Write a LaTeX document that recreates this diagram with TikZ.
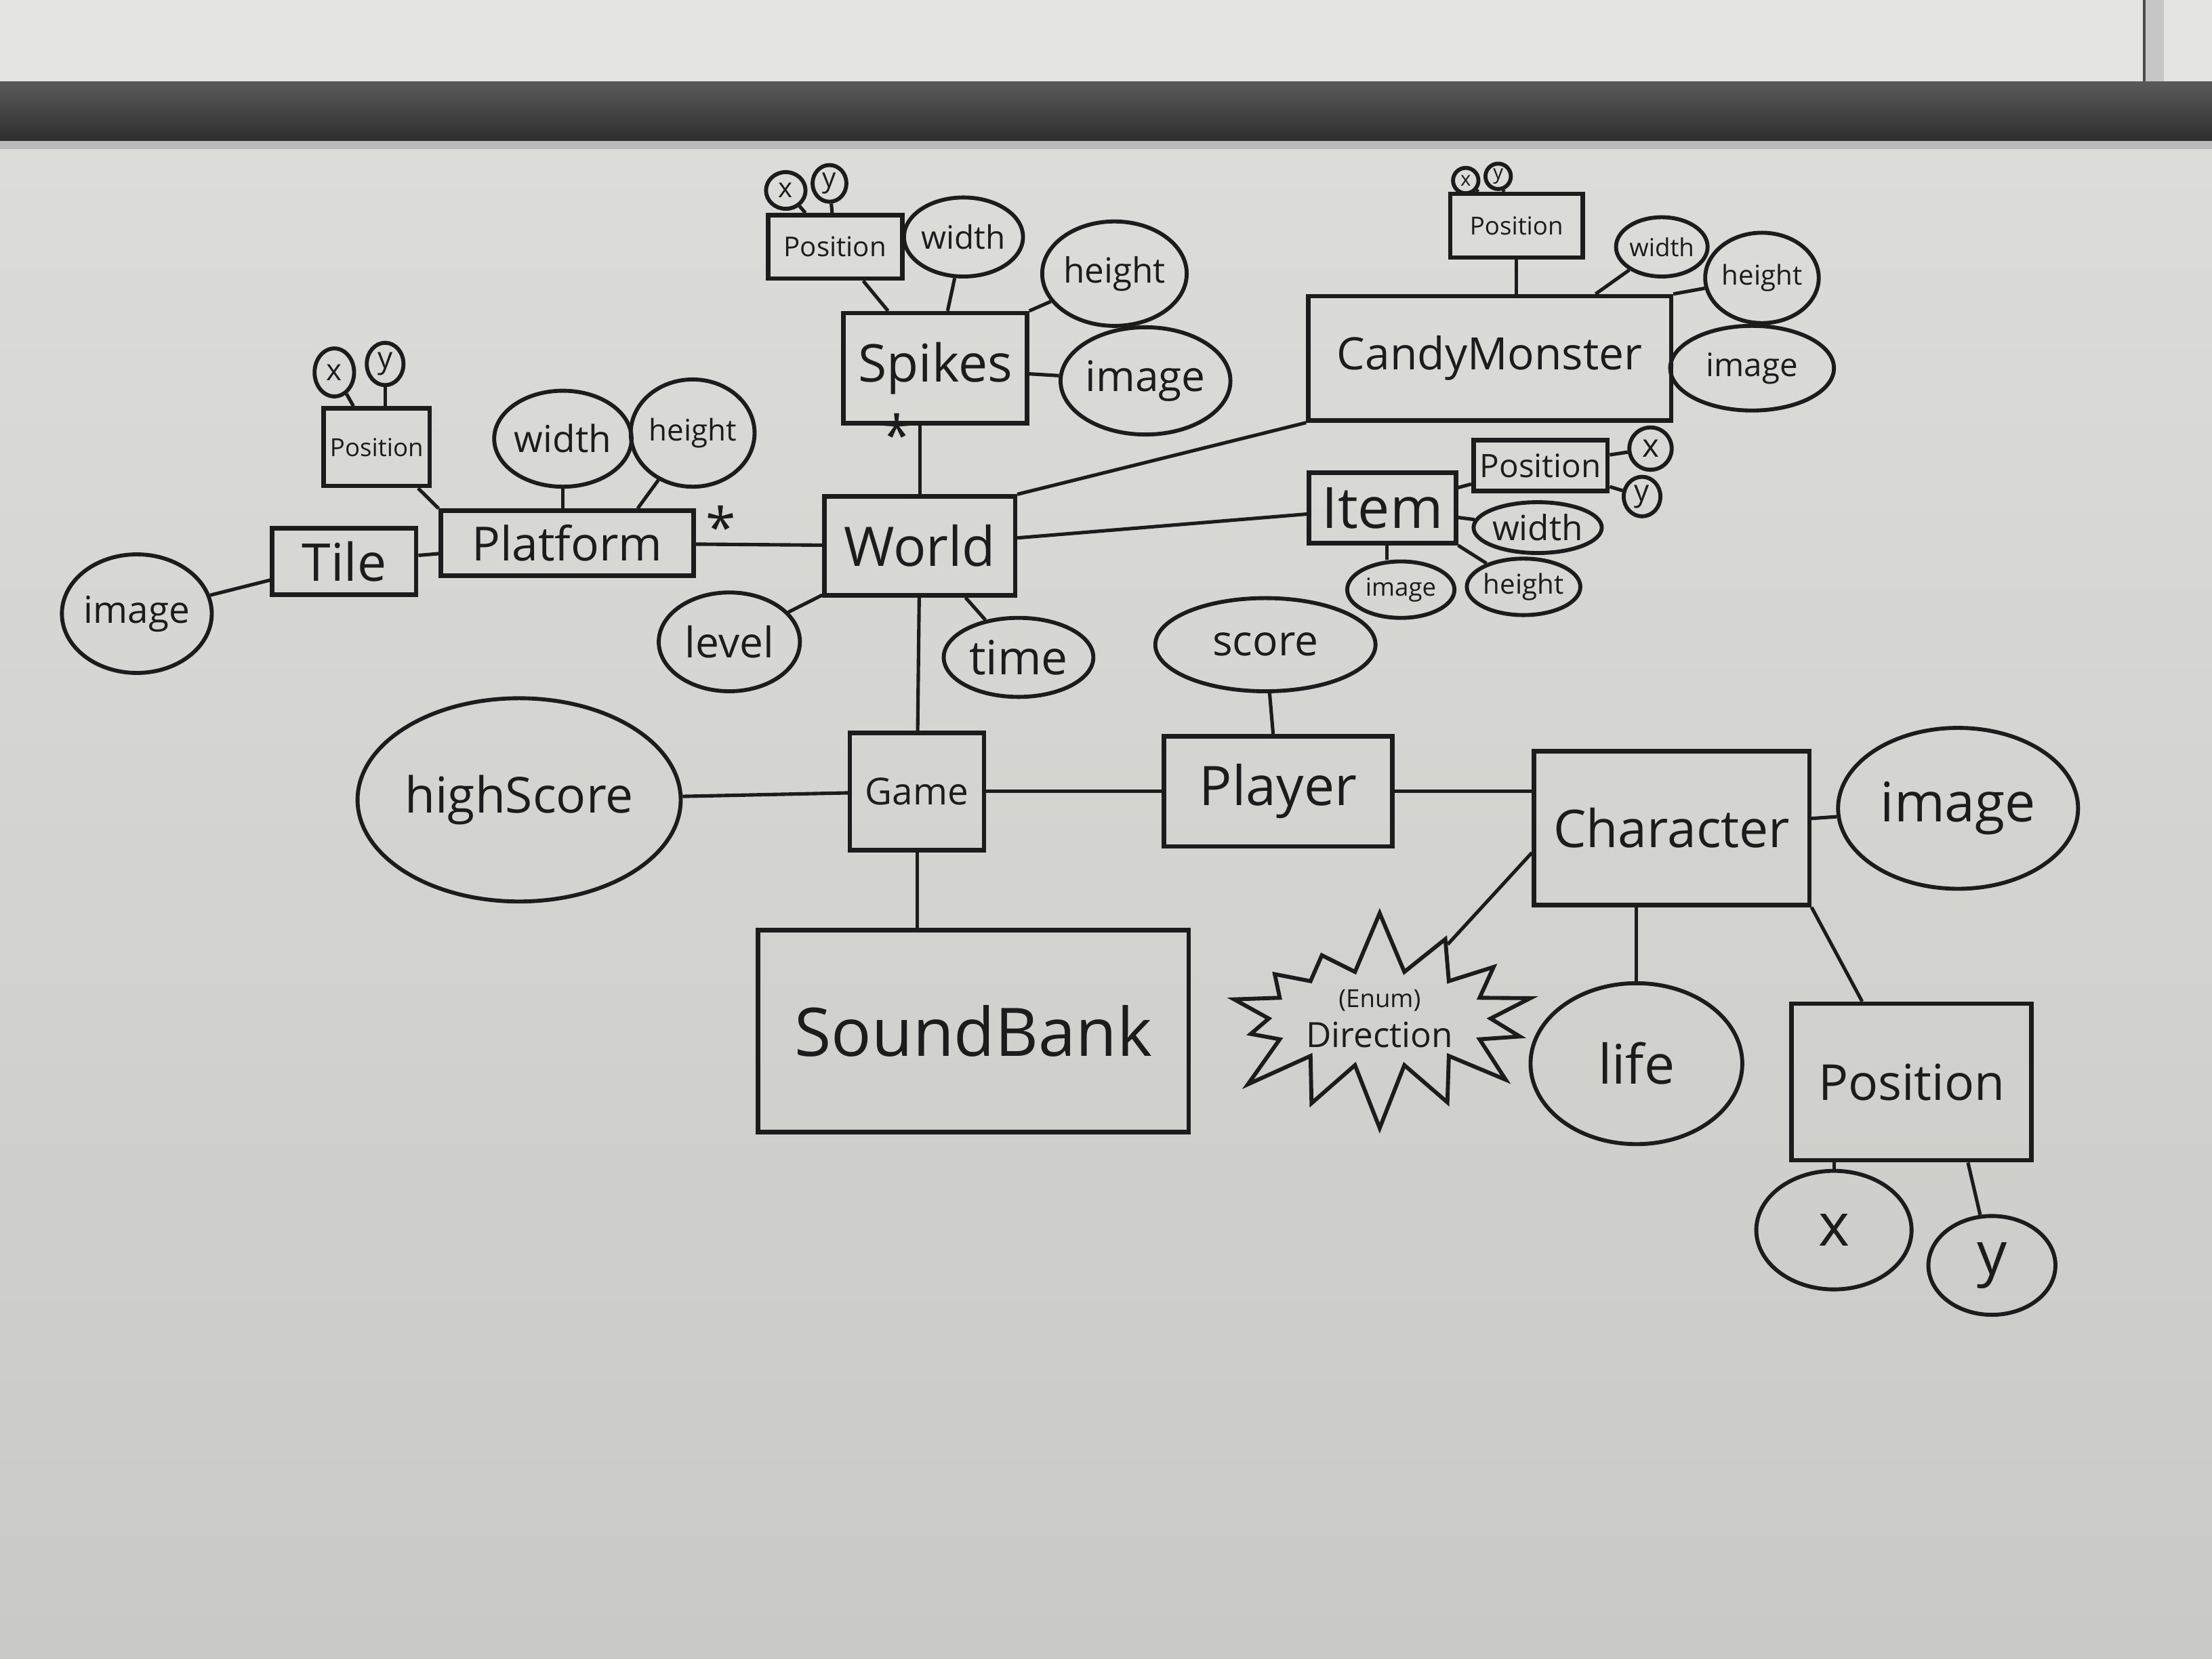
\documentclass[tikz,border=0pt]{standalone}
\usepackage{fontspec}
\setmainfont{Open Sans}
\usetikzlibrary{shapes.geometric,shapes.symbols}
\definecolor{inkc}{HTML}{1C1C1C}
\definecolor{boardtop}{HTML}{DCDCD8}
\definecolor{boardbot}{HTML}{C9C9C5}
\definecolor{wallc}{HTML}{E4E4E2}
\begin{document}
\begin{tikzpicture}[x=0.01cm,y=-0.01cm,
  ent/.style={draw=inkc, text=inkc, rectangle, inner sep=0pt, line width=0.9pt},
  att/.style={draw=inkc, text=inkc, ellipse, inner sep=0pt, line width=0.8pt},
  lnk/.style={draw=inkc, line width=0.7pt},
  fs/.style={font=\fontsize{#1}{#1}\selectfont},
  multmark/.style={text=inkc, inner sep=0pt, font=\fontsize{11}{11}\selectfont},
]
% ---------- background (whiteboard photo) ----------
\useasboundingbox (0,0) rectangle (1568,1176);
\fill[wallc] (0,0) rectangle (1568,60);
\fill[gray!45] (1520,0) rectangle (1534,66);
\draw[gray!60!black, line width=0.6pt] (1520,0) -- (1520,64) -- (1534,64);
\shade[top color=gray!70!black, bottom color=black!82] (0,58) rectangle (1568,100);
\fill[gray!55] (0,100) rectangle (1568,106);
\shade[top color=boardtop, bottom color=boardbot] (0,106) rectangle (1568,1176);

% ---------- Platform group ----------
\node[ent, minimum width=1.79cm, minimum height=0.46cm, fs=9.5] (platform) at (402,385) {Platform};
\node[ent, minimum width=1.02cm, minimum height=0.47cm, fs=10.5] (tile) at (244,398) {Tile};
\node[att, minimum width=0.96cm, minimum height=0.84cm, fs=7.5] (imgL) at (97,435) {image};
\node[ent, minimum width=0.75cm, minimum height=0.55cm, fs=5] (posP) at (267,317) {Position};
\node[att, minimum width=0.28cm, minimum height=0.34cm, fs=6] (xP) at (237,264) {x};
\node[att, minimum width=0.26cm, minimum height=0.30cm, fs=6] (yP) at (273,258) {y};
\node[att, minimum width=0.92cm, minimum height=0.68cm, fs=7.5] (widthP) at (399,311) {width};
\node[att, minimum width=0.80cm, minimum height=0.76cm, fs=6] (heightP) at (491,307) {height};

% ---------- World ----------
\node[ent, minimum width=1.35cm, minimum height=0.70cm, fs=11] (world) at (652,387) {World};
\node[att, minimum width=1.00cm, minimum height=0.70cm, fs=8.5] (level) at (517,455) {level};
\node[att, minimum width=1.06cm, minimum height=0.56cm, fs=9.5] (time) at (722,466) {time};

% ---------- Spikes group ----------
\node[ent, minimum width=1.30cm, minimum height=0.78cm, fs=10.5] (spikes) at (663,261) {Spikes};
\node[ent, minimum width=0.95cm, minimum height=0.45cm, fs=5.5] (posS) at (592,175) {Position};
\node[att, minimum width=0.28cm, minimum height=0.26cm, fs=5.5] (xS) at (557,135) {x};
\node[att, minimum width=0.24cm, minimum height=0.26cm, fs=5.5] (yS) at (588,130) {y};
\node[att, minimum width=0.66cm, minimum height=0.56cm, fs=6.5] (widthS) at (683,168) {width};
\node[att, minimum width=1.02cm, minimum height=0.74cm, fs=7] (heightS) at (790,194) {height};
\node[att, minimum width=1.20cm, minimum height=0.76cm, fs=8.5] (imageS) at (812,270) {image};

% ---------- CandyMonster group ----------
\node[ent, minimum width=2.57cm, minimum height=0.88cm, fs=9] (cm) at (1056,254) {CandyMonster};
\node[ent, minimum width=0.94cm, minimum height=0.45cm, fs=5] (posC) at (1075,160) {Position};
\node[att, minimum width=0.18cm, minimum height=0.18cm, fs=4] (xC) at (1039,128) {x};
\node[att, minimum width=0.18cm, minimum height=0.18cm, fs=4] (yC) at (1062,125) {y};
\node[att, minimum width=0.64cm, minimum height=0.42cm, fs=5] (widthC) at (1178,175) {width};
\node[att, minimum width=0.76cm, minimum height=0.64cm, fs=5.5] (heightC) at (1249,197) {height};
\node[att, minimum width=1.16cm, minimum height=0.60cm, fs=6.5] (imageC) at (1242,261) {image};

% ---------- Item group ----------
\node[ent, minimum width=1.04cm, minimum height=0.50cm, fs=11.5] (item) at (980,360) {Item};
\node[ent, minimum width=0.95cm, minimum height=0.36cm, fs=6.5] (posI) at (1092,330) {Position};
\node[att, minimum width=0.30cm, minimum height=0.30cm, fs=6.5] (xI) at (1170,318) {x};
\node[att, minimum width=0.26cm, minimum height=0.28cm, fs=6] (yI) at (1164,352) {y};
\node[att, minimum width=0.84cm, minimum height=0.36cm, fs=7] (widthI) at (1090,374) {width};
\node[att, minimum width=0.80cm, minimum height=0.40cm, fs=5.5] (heightI) at (1080,416) {height};
\node[att, minimum width=0.76cm, minimum height=0.40cm, fs=5] (imageI) at (993,418) {image};

% ---------- Game / Player / Character ----------
\node[ent, minimum width=0.95cm, minimum height=0.83cm, fs=7.5] (game) at (650,561) {Game};
\node[att, minimum width=1.86cm, minimum height=1.44cm, fs=10] (highScore) at (368,567) {highScore};
\node[ent, minimum width=3.05cm, minimum height=1.43cm, fs=13.5] (soundbank) at (690,731) {SoundBank};
\node[ent, minimum width=1.62cm, minimum height=0.78cm, fs=11] (player) at (906,561) {Player};
\node[att, minimum width=1.56cm, minimum height=0.66cm, fs=8.5] (score) at (897,457) {score};
\node[ent, minimum width=1.95cm, minimum height=1.09cm, fs=10.5] (character) at (1185,587) {Character};
\node[att, minimum width=1.70cm, minimum height=1.14cm, fs=11] (imageCh) at (1388,573) {image};
\node[draw=inkc, text=inkc, line width=0.8pt, starburst, starburst points=14,
      starburst point height=0.45cm, random starburst=7, inner sep=1pt,
      minimum width=2.0cm, minimum height=1.52cm, align=center, fs=7]
      (direction) at (978,722) {{\fontsize{5}{5}\selectfont (Enum)}\\[1pt]Direction};
\node[att, minimum width=1.50cm, minimum height=1.14cm, fs=11] (life) at (1160,754) {life};
\node[ent, minimum width=1.70cm, minimum height=1.11cm, fs=10] (posCh) at (1355,767) {Position};
\node[att, minimum width=1.10cm, minimum height=0.84cm, fs=12] (xCh) at (1300,872) {x};
\node[att, minimum width=0.90cm, minimum height=0.70cm, fs=12] (yCh) at (1412,897) {y};

% ---------- multiplicity marks ----------
\node[multmark] (starP) at (511,373) {*};
\node[multmark] (starS) at (636,308) {*};

% ---------- connectors ----------
\draw[lnk] (imgL) -- (tile);
\draw[lnk] (tile) -- (platform);
\draw[lnk] (platform) -- (world);
\draw[lnk] (posP) -- (platform.north west);
\draw[lnk] (widthP) -- (widthP |- platform.north);
\draw[lnk] (heightP) -- ([xshift=0.5cm]platform.north);
\draw[lnk] (xP) -- (posP);
\draw[lnk] (yP) -- (yP |- posP.north);

\draw[lnk] (world) -- (level);
\draw[lnk] (world) -- (time);
\draw[lnk] (world.north) -- (world.north |- spikes.south);
\draw[lnk] (world.north east) -- (cm.south west);
\draw[lnk] (world) -- (item);
\draw[lnk] (world) -- (game);

\draw[lnk] (posS) -- (spikes);
\draw[lnk] (widthS) -- (spikes);
\draw[lnk] (heightS) -- (spikes.north east);
\draw[lnk] (imageS) -- (spikes);
\draw[lnk] (xS) -- (posS);
\draw[lnk] (yS) -- (posS);

\draw[lnk] (posC) -- (posC |- cm.north);
\draw[lnk] (widthC) -- ([xshift=0.75cm]cm.north);
\draw[lnk] (heightC) -- (cm.north east);
\draw[lnk] (imageC) -- (cm);
\draw[lnk] (xC) -- (posC);
\draw[lnk] (yC) -- (posC);

\draw[lnk] (posI) -- (item);
\draw[lnk] (widthI) -- (item);
\draw[lnk] (heightI) -- (item.south east);
\draw[lnk] (imageI.north -| 983,0) -- (item.south -| 983,0);
\draw[lnk] (xI) -- (posI);
\draw[lnk] (yI) -- (posI);

\draw[lnk] (game) -- (highScore);
\draw[lnk] (game) -- (player);
\draw[lnk] (game.south) -- (game.south |- soundbank.north);
\draw[lnk] (score) -- (player);
\draw[lnk] (player.east) -- (player.east -| character.west);
\draw[lnk] (character) -- (imageCh);
\draw[lnk] (character.190) -- (direction);
\draw[lnk] (character.south -| life.north) -- (life.north);
\draw[lnk] (character.south east) -- ([xshift=-0.35cm]posCh.north);
\draw[lnk] (xCh) -- (xCh |- posCh.south);
\draw[lnk] (yCh) -- ([xshift=0.4cm]posCh.south);
\end{tikzpicture}
\end{document}
